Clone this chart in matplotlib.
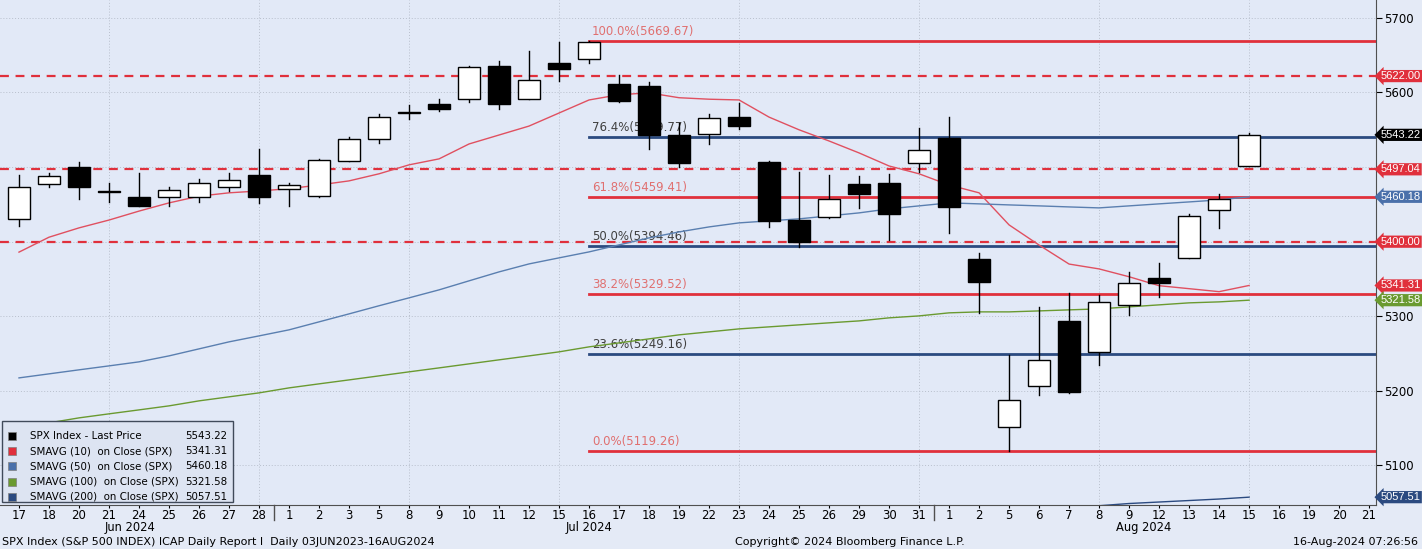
import matplotlib
matplotlib.use("Agg")
import matplotlib.pyplot as plt
from matplotlib.patches import Rectangle
import numpy as np

dates = ["17","18","20","21","24","25","26","27","28","1","2","3","5","8","9","10","11","12","15","16",
         "17","18","19","22","23","24","25","26","29","30","31","1","2","5","6","7","8","9","12","13","14","15",
         "16","19","20","21"]
opens  = [5431,5477.5,5500,5468,5460,5460,5460,5473,5490,5471,5461,5508,5538,5572,5585,5591,5636,5591,5640,5645,
          5611.5,5609,5543,5544.5,5567,5507,5429,5433,5477.5,5479,5506,5539,5377,5152,5207,5294,5252,5315,5351.5,5378,5443,5501.6]
closes = [5473,5488,5473,5466,5448,5469.5,5479,5483,5460,5476,5509.5,5538,5567,5573,5578,5634,5585,5617,5632,5668,
          5589,5543,5506,5566,5555,5428,5400,5457,5464,5437,5523,5447,5346,5188,5242,5199,5319,5345,5345,5434.5,5457,5543.22]
highs  = [5489.5,5492,5507,5479,5492,5473,5484,5492,5524,5479,5511,5540.5,5571,5583,5591,5636,5642,5656,5668,5669.67,
          5623.6,5614,5559,5571,5586,5508,5493.5,5489,5488,5491,5552.5,5567,5385,5248,5313,5331,5329,5360,5372,5437,5464,5546]
lows   = [5421,5473,5457,5453,5448,5448,5453,5468,5452,5448,5460,5508,5532,5565,5575,5587,5578,5591,5615.5,5640,
          5587,5524,5500,5531,5551,5420,5393,5432,5445,5402,5494,5412,5305,5119.26,5195,5197,5235,5302,5326,5378,5418,5501]
sma10 = [5386,5406,5418.5,5429,5441,5452,5461,5465.5,5468,5471,5476,5481.5,5491,5503,5511,5531,5543,5555,5572.5,5590,
         5597,5599.5,5593,5591,5590,5567,5550,5535,5519,5501.5,5491,5476,5465.5,5422.5,5395.5,5370,5363.5,5353,5341,5337,5333,5341.31]
sma50 = [5217.4,5222.8,5228.2,5233.5,5238.9,5246.9,5256.3,5265.7,5273.7,5281.8,5292.5,5303.2,5314.1,5324.7,5335.4,5347.5,
         5359.5,5370.2,5378.3,5386.3,5395.7,5405.1,5413.1,5419.8,5425.2,5427.9,5430.6,5434.6,5438.6,5444.0,5448.0,5452.0,
         5450.7,5449.3,5448.0,5446.6,5445.3,5448.0,5450.7,5453.3,5456.0,5460.18]
sma100 = [5151.7,5157.1,5163.8,5169.2,5174.5,5179.9,5186.6,5192.0,5197.3,5204.0,5209.4,5214.7,5220.1,5225.5,5230.8,5236.2,
          5241.6,5246.9,5252.3,5259.0,5264.3,5269.7,5275.1,5279.1,5283.1,5285.8,5288.5,5291.2,5293.8,5297.9,5300.5,5304.6,
          5305.9,5305.9,5307.2,5308.6,5309.9,5312.6,5315.3,5318.0,5319.3,5321.58]
sma200 = [4905,4909,4913,4917,4921,4925,4929,4933,4937,4941,4945,4949,4953,4957,4961,4965,4969,4973,4977,4981,
          4985,4989,4993,4997,5001,5005,5009,5013,5017,5021,5025,5029,5033,5037,5040,5043,5046,5049,5051,5053,5055,5057.51]
fib_pct = ["100.0%","76.4%","61.8%","50.0%","38.2%","23.6%","0.0%"]
fib_val = [5669.67,5539.77,5459.41,5394.46,5329.52,5249.16,5119.26]
dashed_levels = [5622.00,5497.04,5400.00]

W, H = 1422, 549
fig = plt.figure(figsize=(W/100, H/100), dpi=100)
fig.patch.set_facecolor("#e4eaf6")
ax = fig.add_axes([0, 1-505/H, 1376/W, 505/H])
ax.set_facecolor("#e2e9f7")
ax.set_xlim(-0.633, 45.23)
ax.set_ylim(5047, 5724)

for v in range(5100, 5701, 100):
    ax.axhline(v, color="#b8bfcc", lw=0.7, ls=(0, (1, 2)), zorder=0)
for gi in [3, 8, 13, 18, 24, 30, 36, 41]:
    ax.axvline(gi, color="#b8bfcc", lw=0.7, ls=(0, (1, 2)), zorder=0)

RED = "#e0303c"; NAVY = "#2b4a80"
for v in dashed_levels:
    ax.axhline(v, color=RED, lw=1.6, ls=(0, (4, 3)), zorder=1)
for p, v in zip(fib_pct, fib_val):
    c = NAVY if p in ("76.4%", "50.0%", "23.6%") else RED
    tc = "#404040" if c == NAVY else "#e07070"
    ax.plot([19, 46], [v, v], color=c, lw=2, zorder=2)
    ax.text(19.1, v + 4, f"{p}({v:.2f})", color=tc, fontsize=8.5, va="bottom", ha="left", zorder=3)

x = np.arange(len(closes))
ax.plot(x, sma10, color="#e05060", lw=1, zorder=3)
ax.plot(x, sma50, color="#5a7fb0", lw=1, zorder=3)
ax.plot(x, sma100, color="#6a9a30", lw=1, zorder=3)
ax.plot(x, sma200, color="#2b4a80", lw=1, zorder=3)

w = 0.72
for i in range(len(closes)):
    o, c, h, l = opens[i], closes[i], highs[i], lows[i]
    ax.plot([i, i], [l, h], color="black", lw=1, zorder=4)
    lo, hi = min(o, c), max(o, c)
    hgt = max(hi - lo, 1.2)
    fc = "white" if c >= o else "black"
    ax.add_patch(Rectangle((i - w/2, lo), w, hgt, facecolor=fc, edgecolor="black", lw=1, zorder=5))

ax.set_xticks(range(len(dates)))
ax.set_xticklabels(dates, fontsize=8.5)
ax.tick_params(axis="x", length=2, pad=1)
ax.yaxis.tick_right()
ax.set_yticks([5100, 5200, 5300, 5600, 5700])
ax.set_yticklabels(["5100", "5200", "5300", "5600", "5700"], fontsize=8.5)
ax.tick_params(axis="y", length=4, pad=2)
for s in ["top", "left"]:
    ax.spines[s].set_visible(False)
ax.spines["right"].set_color("#505050")
ax.spines["bottom"].set_color("#505050")

for xi, lab in [(3.7, "Jun 2024"), (19.0, "Jul 2024"), (37.5, "Aug 2024")]:
    ax.text(xi, -23/505, lab, transform=ax.get_xaxis_transform(), fontsize=8.3, ha="center", va="center")
for xi in [8.5, 30.5]:
    ax.plot([xi, xi], [0, -0.03], transform=ax.get_xaxis_transform(), color="#505050", lw=1, clip_on=False)

tags = [(5622.00, RED, "white"), (5543.22, "black", "white"), (5497.04, RED, "white"),
        (5460.18, "#4a70aa", "white"), (5400.00, RED, "white"), (5341.31, RED, "white"),
        (5321.58, "#6a9a30", "white"), (5057.51, NAVY, "white")]
for v, bg, fg in tags:
    ax.annotate(f"{v:.2f}", xy=(1.0, v), xycoords=("axes fraction", "data"), xytext=(3.5, 0),
                textcoords="offset points", va="center", ha="left", fontsize=8, color=fg,
                family="Liberation Sans",
                bbox=dict(boxstyle="larrow,pad=0.1", fc=bg, ec="none"), annotation_clip=False)

leg_items = [("SPX Index - Last Price", "5543.22", "black"), ("SMAVG (10)  on Close (SPX)", "5341.31", RED),
             ("SMAVG (50)  on Close (SPX)", "5460.18", "#4a70aa"), ("SMAVG (100)  on Close (SPX)", "5321.58", "#6a9a30"),
             ("SMAVG (200)  on Close (SPX)", "5057.51", NAVY)]
fig.patches.append(Rectangle((2/W, 1-502/H), 231/W, 81/H, transform=fig.transFigure,
                             facecolor="#dde4f2", edgecolor="#404a5a", lw=1, zorder=10))
for k, (name, val, col) in enumerate(leg_items):
    yy = 1 - (436 + k*15.2)/H
    fig.patches.append(Rectangle((8/W, yy - 4/H), 8/W, 8/H, transform=fig.transFigure,
                                 facecolor=col, edgecolor="#808080", lw=0.5, zorder=11))
    fig.text(30/W, yy, name, fontsize=7.4, va="center", ha="left", zorder=12)
    fig.text(227/W, yy, val, fontsize=7.4, va="center", ha="right", zorder=12)

fig.text(2/W, 1 - 542/H, "SPX Index (S&P 500 INDEX) ICAP Daily Report I  Daily 03JUN2023-16AUG2024", fontsize=8, va="center")
fig.text(850/W, 1 - 542/H, "Copyright\u00a9 2024 Bloomberg Finance L.P.", fontsize=8, va="center", ha="center")
fig.text(1418/W, 1 - 542/H, "16-Aug-2024 07:26:56", fontsize=8, va="center", ha="right")

fig.savefig("out.png", dpi=100, facecolor=fig.get_facecolor())
